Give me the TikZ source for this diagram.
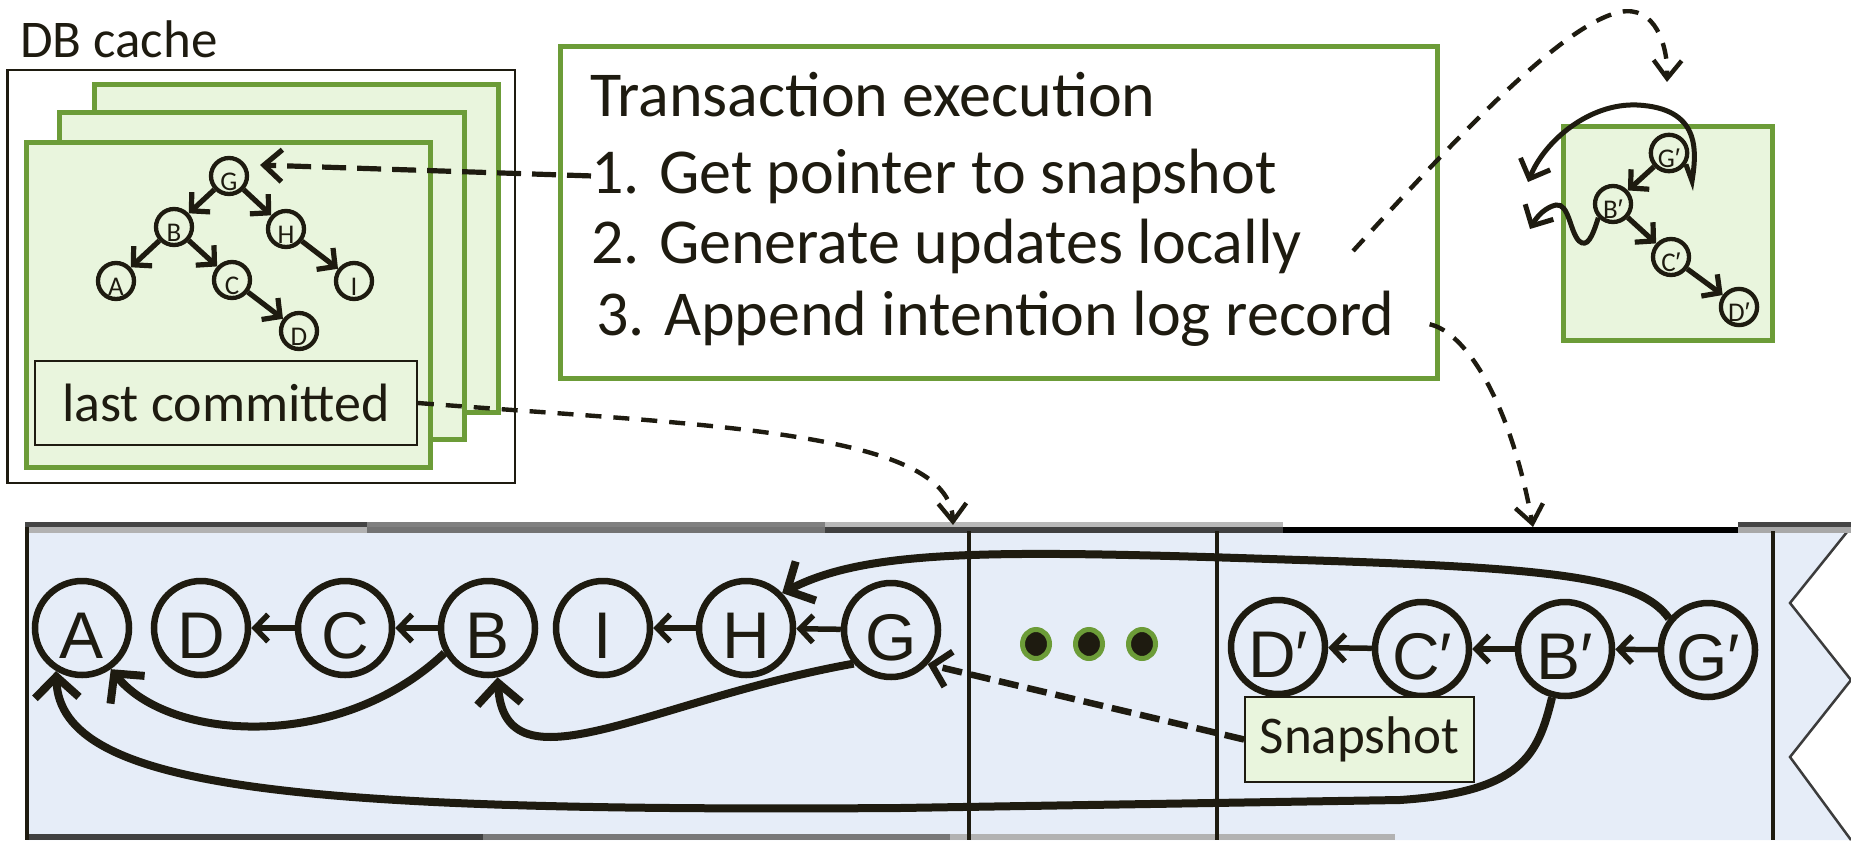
\documentclass[tikz,border=0pt]{standalone}
\usepackage{fontspec}
\setmainfont{Carlito}
\newfontfamily\arialf{Liberation Sans}
\usetikzlibrary{arrows.meta}

\definecolor{ink}{RGB}{30,27,16}
\definecolor{leaf}{RGB}{108,156,56}
\definecolor{pagefill}{RGB}{233,245,221}
\definecolor{logfill}{RGB}{230,237,248}
\definecolor{zigcol}{RGB}{60,60,60}

\newcommand{\pr}{{\arialf\char"2032}}

\begin{document}
\begin{tikzpicture}[x=1pt,y=-1pt,
  page/.style={draw=leaf, line width=5pt, fill=pagefill},
  tnode/.style={circle, draw=ink, line width=4.3pt, minimum size=36pt, inner sep=0pt,
    text height=29pt, text depth=0pt, font=\fontsize{27}{27}\selectfont, text=ink},
  bnode/.style={circle, draw=ink, line width=6.5pt, minimum size=94pt, inner sep=0pt,
    text height=60pt, text depth=0pt, font=\arialf\fontsize{66}{66}\selectfont, text=ink},
  steptext/.style={anchor=base west, inner sep=0pt, font=\fontsize{64}{64}\selectfont, text=ink},
  treelink/.style={draw=ink, line width=5.2pt, -{Straight Barb[length=13pt,width=27pt]}},
  chainlink/.style={draw=ink, line width=5.5pt, -{Straight Barb[length=13pt,width=27pt]}},
  smallcurve/.style={draw=ink, line width=5pt, -{Straight Barb[length=16pt,width=32pt]}},
  bigcurve/.style={draw=ink, line width=8pt, -{Straight Barb[length=21pt,width=44pt]}},
  ptrdash/.style={draw=ink, line width=5.2pt, dash pattern=on 24pt off 11pt, -{Straight Barb[length=18pt,width=32pt]}},
  logdash/.style={draw=ink, line width=4.4pt, dash pattern=on 16pt off 12pt, -{Straight Barb[length=18pt,width=28pt]}},
  snapdash/.style={draw=ink, line width=6.5pt, dash pattern=on 20pt off 9pt, -{Straight Barb[length=17pt,width=36pt]}}
]
\useasboundingbox (0,0) rectangle (1851,840);

% ---------------- DB cache ----------------
\node[anchor=base west, inner sep=0pt, font=\fontsize{53}{53}\selectfont, text=ink] (dbtitle) at (20,58) {DB cache};
\draw[ink, line width=2.2pt] (7.5,70) rectangle (515,483);
\draw[page] (94,85) rectangle (498,412);
\draw[page] (59,113) rectangle (464,439);
\draw[page] (26,142) rectangle (430,467);

\node[tnode] (tG) at (229,176) {G};
\node[tnode] (tB) at (174,227) {B};
\node[tnode] (tH) at (286,229) {H};
\node[tnode] (tA) at (116,281) {A};
\node[tnode] (tC) at (232,280) {C};
\node[tnode] (tI) at (354,281) {I};
\node[tnode] (tD) at (299,331) {D};
\draw[treelink] (tG) -- (tB);
\draw[treelink] (tG) -- (tH);
\draw[treelink] (tB) -- (tA);
\draw[treelink] (tB) -- (tC);
\draw[treelink] (tC) -- (tD);
\draw[treelink] (tH) -- (tI);

\node[draw=ink, line width=1.8pt, fill=pagefill, minimum width=382pt, minimum height=84pt,
  inner sep=0pt, font=\fontsize{54}{54}\selectfont, text=ink] (lastc) at (226,403) {last committed};

% ---------------- transaction box ----------------
\draw[draw=leaf, line width=5pt] (560,47) rectangle (1437,378);
\node[steptext] (title) at (590,117) {Transaction execution};
\node[steptext] (stepone) at (591,193) {1. Get pointer to snapshot};
\node[steptext] (steptwo) at (591,263) {2. Generate updates locally};
\node[steptext] (stepthree) at (596,335) {3. Append intention log record};

% ---------------- local update tree ----------------
\draw[page] (1563,127) rectangle (1772,340);
\node[tnode] (sG) at (1669,153) {G\pr};
\node[tnode] (sB) at (1613,204) {B\pr};
\node[tnode] (sC) at (1671,257) {C\pr};
\node[tnode] (sD) at (1739,307) {D\pr};
\draw[treelink] (sG) -- (sB);
\draw[treelink] (sB) -- (sC);
\draw[treelink] (sC) -- (sD);
\coordinate (hookone) at (1528,182);
\coordinate (hooktwo) at (1530,229);
\draw[smallcurve] (sG.326) -- (1692,181) .. controls (1697,150) and (1700,108) .. (1637,105)
  .. controls (1590,103) and (1545,140) .. (hookone);
\draw[smallcurve] (sB.223) .. controls (1592,238) and (1587,248) .. (1579,241)
  .. controls (1570,232) and (1569,203) .. (1556,205) .. controls (1546,207) and (1537,216) .. (hooktwo);

% ---------------- log ----------------
\fill[logfill] (26,527) -- (1851,527) -- (1790,603) -- (1851,680) -- (1790,757) -- (1851,840) -- (26,840) -- cycle;
\draw[zigcol, line width=2.5pt] (1851,527) -- (1790,603) -- (1851,680) -- (1790,757) -- (1851,840);
% top edge
\fill[black!73] (25,522) rectangle (367,527);
\fill[black!30] (25,527) rectangle (367,533);
\fill[black!50] (367,522) rectangle (825,527);
\fill[black!55] (367,527) rectangle (825,533);
\fill[black!28] (825,522) rectangle (1283,527);
\fill[black!75] (825,527) rectangle (1283,533);
\fill[black] (1283,527) rectangle (1738,533);
\fill[black!73] (1738,522) rectangle (1851,527);
\fill[black!34] (1738,527) rectangle (1851,533);
% bottom edge
\fill[black!75] (25,834) rectangle (483,840);
\fill[black!53] (483,834) rectangle (950,840);
\fill[black!30] (950,834) rectangle (1395,840);
% edges and dividers
\draw[ink, line width=3.5pt] (27,527) -- (27,840);
\draw[ink, line width=3.5pt] (969,531) -- (969,840);
\draw[ink, line width=3.5pt] (1217,531) -- (1217,840);
\draw[ink, line width=3.5pt] (1773,531) -- (1773,840);

\node[bnode] (lA) at (82,628) {A};
\node[bnode] (lD) at (201,628) {D};
\node[bnode] (lC) at (345,628) {C};
\node[bnode] (lB) at (488,628) {B};
\node[bnode] (lI) at (603,628) {I};
\node[bnode] (lH) at (746,628) {H};
\node[bnode] (lG) at (891,630) {G};
\node[bnode] (rD) at (1278,647) {D\pr};
\node[bnode] (rC) at (1422,649) {C\pr};
\node[bnode] (rB) at (1565,649) {B\pr};
\node[bnode] (rG) at (1708,650) {G\pr};

\draw[chainlink] (lC) -- (lD);
\draw[chainlink] (lB) -- (lC);
\draw[chainlink] (lH) -- (lI);
\draw[chainlink] (lG) -- (lH);
\draw[chainlink] (rC) -- (rD);
\draw[chainlink] (rB) -- (rC);
\draw[chainlink] (rG) -- (rB);

\foreach \x in {1036,1089,1142}
  \filldraw[fill=ink, draw=leaf, line width=5pt] (\x,644) ellipse [x radius=13.5pt, y radius=14.5pt];

\node[draw=ink, line width=1.8pt, fill=pagefill, minimum width=229pt, minimum height=85pt,
  inner sep=0pt, font=\fontsize{53}{53}\selectfont, text=ink] (snap) at (1359.5,739.5) {Snapshot};

\draw[bigcurve] (lB.210) .. controls (340,752) and (170,742) .. (lA.305);
\draw[bigcurve] (lG.222) .. controls (650,700) and (505,795) .. (lB.281);
\draw[bigcurve] (rB.255) .. controls (1538,755) and (1522,792) .. (1400,800) -- (900,808)
  .. controls (300,812) and (60,790) .. (lA.239);
\draw[bigcurve] (rG.141) .. controls (1640,578) and (1560,568) .. (1300,560)
  .. controls (1000,550) and (870,548) .. (lH.44);
\draw[snapdash] (snap.west) -- (lG.317);

% ---------------- dashed pointers ----------------
\coordinate (logtopA) at (953,525);
\coordinate (logtopB) at (1533,527);
\coordinate (boxtip) at (1667,82);
\draw[ptrdash] (stepone.west) -- ([xshift=31pt,yshift=11pt]tG.center);
\draw[logdash] (lastc.east) .. controls (700,425) and (950,430) .. (logtopA);
\draw[logdash] ([xshift=51pt,yshift=-5pt]steptwo.east) .. controls (1450,145) and (1560,25) .. (1620,12)
  .. controls (1655,5) and (1668,45) .. (boxtip);
\draw[logdash] ([xshift=35pt,yshift=-6pt]stepthree.east) .. controls (1465,332) and (1510,400) .. (logtopB);
\end{tikzpicture}
\end{document}
